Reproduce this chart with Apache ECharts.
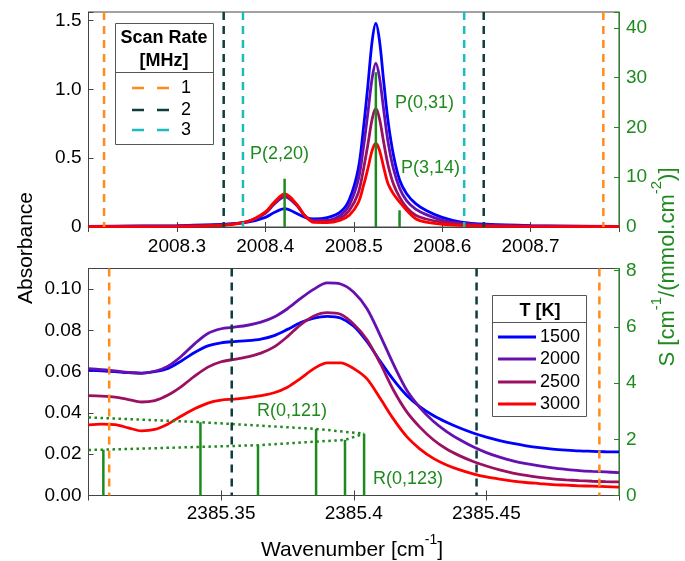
<!DOCTYPE html>
<html>
<head>
<meta charset="utf-8">
<script src="https://cdn.jsdelivr.net/npm/echarts@6/dist/echarts.min.js"></script>
<style>
  html, body { margin: 0; padding: 0; background: #fff; }
  #chartsDom { width: 685px; height: 561px; }
</style>
</head>
<body>
<div id="chartsDom"></div>
<script>
// ---- top panel: P branch near 2008.5 cm-1 ----
var xTop = [2008.20, 2008.30, 2008.35, 2008.38, 2008.40, 2008.41, 2008.422, 2008.435, 2008.445, 2008.455,
  2008.47, 2008.485, 2008.495, 2008.505, 2008.511, 2008.516, 2008.521, 2008.525, 2008.529, 2008.534,
  2008.539, 2008.545, 2008.552, 2008.56, 2008.57, 2008.582, 2008.60, 2008.62, 2008.65, 2008.70, 2008.80];
var top1500 = [0.004, 0.010, 0.018, 0.035, 0.070, 0.105, 0.134, 0.100, 0.070, 0.058,
  0.068, 0.110, 0.200, 0.420, 0.720, 1.030, 1.360, 1.480, 1.360, 1.050,
  0.760, 0.520, 0.340, 0.240, 0.170, 0.120, 0.070, 0.038, 0.020, 0.010, 0.004];
var top2000 = [0.003, 0.008, 0.016, 0.040, 0.100, 0.165, 0.220, 0.160, 0.080, 0.048,
  0.050, 0.085, 0.160, 0.340, 0.580, 0.830, 1.090, 1.190, 1.090, 0.845,
  0.610, 0.420, 0.280, 0.190, 0.130, 0.090, 0.050, 0.028, 0.015, 0.008, 0.003];
var top2500 = [0.002, 0.006, 0.014, 0.040, 0.105, 0.175, 0.232, 0.165, 0.080, 0.040,
  0.040, 0.065, 0.120, 0.245, 0.420, 0.600, 0.790, 0.862, 0.790, 0.610,
  0.445, 0.310, 0.215, 0.140, 0.085, 0.058, 0.035, 0.020, 0.010, 0.005, 0.002];
var top3000 = [0.002, 0.005, 0.012, 0.040, 0.110, 0.180, 0.240, 0.170, 0.080, 0.033,
  0.032, 0.050, 0.085, 0.175, 0.300, 0.425, 0.560, 0.607, 0.560, 0.430,
  0.310, 0.240, 0.180, 0.120, 0.060, 0.035, 0.020, 0.012, 0.007, 0.004, 0.002];
var stickTopX = [2008.4218, 2008.525, 2008.5518];
var stickTopS = [9.7, 31.1, 3.35];
var dashTop = { "1": [2008.2176, 2008.7823], "2": [2008.3529, 2008.6470], "3": [2008.3747, 2008.6249] };

// ---- bottom panel: R branch band head near 2385.4 cm-1 ----
var xBot = [2385.300, 2385.305, 2385.310, 2385.315, 2385.320, 2385.325, 2385.330, 2385.335, 2385.340, 2385.345,
  2385.350, 2385.355, 2385.360, 2385.365, 2385.370, 2385.375, 2385.380, 2385.385, 2385.390, 2385.395,
  2385.400, 2385.405, 2385.410, 2385.415, 2385.420, 2385.425, 2385.430, 2385.435, 2385.440, 2385.445,
  2385.450, 2385.455, 2385.460, 2385.465, 2385.470, 2385.475, 2385.480, 2385.485, 2385.490, 2385.495, 2385.500];
var bot1500 = [0.0608, 0.0604, 0.0600, 0.0595, 0.0593, 0.0600, 0.0616, 0.0652, 0.0693, 0.0725,
  0.0740, 0.0746, 0.0750, 0.0758, 0.0775, 0.0805, 0.0838, 0.0860, 0.0868, 0.0860,
  0.0820, 0.0745, 0.0650, 0.0560, 0.0485, 0.0430, 0.0388, 0.0355, 0.0327, 0.0303,
  0.0283, 0.0266, 0.0252, 0.0241, 0.0232, 0.0225, 0.0220, 0.0216, 0.0214, 0.0212, 0.0211];
var bot2000 = [0.0615, 0.0610, 0.0604, 0.0596, 0.0592, 0.0602, 0.0627, 0.0675, 0.0735, 0.0785,
  0.0808, 0.0816, 0.0825, 0.0840, 0.0865, 0.0905, 0.0955, 0.1000, 0.1030, 0.1025,
  0.0985, 0.0905, 0.0775, 0.0635, 0.0510, 0.0425, 0.0360, 0.0310, 0.0270, 0.0236,
  0.0208, 0.0186, 0.0168, 0.0154, 0.0143, 0.0134, 0.0127, 0.0121, 0.0117, 0.0114, 0.0111];
var bot2500 = [0.0484, 0.0482, 0.0477, 0.0465, 0.0453, 0.0460, 0.0487, 0.0528, 0.0578, 0.0622,
  0.0648, 0.0660, 0.0672, 0.0690, 0.0720, 0.0770, 0.0828, 0.0870, 0.0886, 0.0878,
  0.0830, 0.0755, 0.0640, 0.0510, 0.0405, 0.0330, 0.0270, 0.0225, 0.0192, 0.0165,
  0.0143, 0.0124, 0.0109, 0.0097, 0.0088, 0.0081, 0.0076, 0.0072, 0.0069, 0.0067, 0.0066];
var bot3000 = [0.0342, 0.0346, 0.0343, 0.0328, 0.0313, 0.0320, 0.0347, 0.0385, 0.0420, 0.0448,
  0.0462, 0.0467, 0.0474, 0.0484, 0.0498, 0.0525, 0.0568, 0.0615, 0.0643, 0.0643,
  0.0615, 0.0565, 0.0470, 0.0370, 0.0285, 0.0225, 0.0180, 0.0148, 0.0124, 0.0105,
  0.0090, 0.0079, 0.0070, 0.0063, 0.0058, 0.0053, 0.0050, 0.0047, 0.0045, 0.0043, 0.0041];
var stickBotX = [2385.3056, 2385.3422, 2385.3639, 2385.3858, 2385.3967, 2385.4039];
var stickBotS = [1.63, 2.61, 1.79, 2.37, 1.98, 2.2];
var branchUpper = [[2385.300, 2.78], [2385.3422, 2.61], [2385.3858, 2.37], [2385.4039, 2.2]];
var branchLower = [[2385.300, 1.62], [2385.3056, 1.63], [2385.3639, 1.79], [2385.3967, 1.98], [2385.4039, 2.2]];
var dashBot = { "1": [2385.3078, 2385.4926], "2": [2385.3540, 2385.4463] };

var temps = ["1500", "2000", "2500", "3000"];
var tempColors = ["#0000ff", "#6610b0", "#9c1062", "#ff0000"];
var rateColors = { "1": "#ff8c1a", "2": "#0f3c3c", "3": "#1cbcbc" };
var green = "#1e8a1e";
var font = "'Liberation Sans', Arial, Helvetica, sans-serif";

function zip(xs, ys) {
  return xs.map(function (x, i) { return [x, ys[i]]; });
}

function stickItem(params, api) {
  var p0 = api.coord([api.value(0), 0]);
  var p1 = api.coord([api.value(0), api.value(1)]);
  return {
    type: "line",
    shape: { x1: p0[0], y1: p0[1], x2: p1[0], y2: p1[1] },
    style: { stroke: green, lineWidth: 2.5 }
  };
}

function vline(color) {
  return function (params, api) {
    var p = api.coord([api.value(0), 0]);
    var cs = params.coordSys;
    return {
      type: "line",
      shape: { x1: p[0], y1: cs.y, x2: p[0], y2: cs.y + cs.height },
      style: { stroke: color, lineWidth: 2.5, lineDash: [8, 6] }
    };
  };
}

var labelStyle = { fontFamily: font, fontSize: 19, color: "#000" };

function xAxisPair(gridIndex, min, max, interval, fmt, margin) {
  return [
    {
      type: "value", gridIndex: gridIndex, min: min, max: max, interval: interval,
      axisLine: { show: true, lineStyle: { color: "#444", width: 1 } },
      axisTick: { show: true, inside: true, length: 5, lineStyle: { color: "#444" } },
      axisLabel: Object.assign({ margin: margin, showMinLabel: false, showMaxLabel: false, formatter: fmt }, labelStyle),
      splitLine: { show: false }
    },
    {
      type: "value", gridIndex: gridIndex, position: "top", min: min, max: max, interval: interval,
      axisLine: { show: true, lineStyle: { color: "#444", width: 1 } },
      axisTick: { show: true, inside: true, length: 5, lineStyle: { color: "#444" } },
      axisLabel: { show: false },
      splitLine: { show: false }
    }
  ];
}

function yAxis(gridIndex, pos, max, interval, fmt, color) {
  return {
    type: "value", gridIndex: gridIndex, position: pos, min: 0, max: max, interval: interval,
    axisLine: { show: true, lineStyle: { color: color === "#000" ? "#444" : color, width: 1 } },
    axisTick: { show: true, inside: true, length: 5, lineStyle: { color: color === "#000" ? "#444" : color } },
    axisLabel: Object.assign({}, labelStyle, { color: color, margin: 7, formatter: fmt }),
    splitLine: { show: false }
  };
}

function keepMultiple(step, digits) {
  return function (v) {
    var k = v / step;
    if (Math.abs(k - Math.round(k)) > 1e-6) return "";
    if (v === 0 && digits === 1) return "0";
    return v.toFixed(digits);
  };
}

var series = [];
// curves
temps.forEach(function (t, i) {
  series.push({
    type: "line", name: t, xAxisIndex: 0, yAxisIndex: 0, showSymbol: false, smooth: 0.35, z: 3,
    lineStyle: { color: tempColors[i], width: 2.8 }, data: zip(xTop, [top1500, top2000, top2500, top3000][i])
  });
  series.push({
    type: "line", name: t, xAxisIndex: 2, yAxisIndex: 2, showSymbol: false, smooth: 0.3, z: 3,
    lineStyle: { color: tempColors[i], width: 2.8 }, data: zip(xBot, [bot1500, bot2000, bot2500, bot3000][i])
  });
});
// line strengths (right axis)
series.push({ type: "custom", xAxisIndex: 0, yAxisIndex: 1, renderItem: stickItem, z: 4, data: zip(stickTopX, stickTopS) });
series.push({ type: "custom", xAxisIndex: 2, yAxisIndex: 3, renderItem: stickItem, z: 4, data: zip(stickBotX, stickBotS) });
series.push({ type: "line", xAxisIndex: 2, yAxisIndex: 3, showSymbol: false, z: 4,
  lineStyle: { color: green, width: 2.5, type: [2.5, 3.5] }, data: branchUpper });
series.push({ type: "line", xAxisIndex: 2, yAxisIndex: 3, showSymbol: false, z: 4,
  lineStyle: { color: green, width: 2.5, type: [2.5, 3.5] }, data: branchLower });
// scan-rate limits
Object.keys(dashTop).forEach(function (k) {
  series.push({ type: "custom", name: k, xAxisIndex: 0, yAxisIndex: 0, z: 5, renderItem: vline(rateColors[k]),
    data: dashTop[k].map(function (v) { return [v, 0]; }) });
});
Object.keys(dashBot).forEach(function (k) {
  series.push({ type: "custom", name: k, xAxisIndex: 2, yAxisIndex: 2, z: 5, renderItem: vline(rateColors[k]),
    data: dashBot[k].map(function (v) { return [v, 0]; }) });
});

var gtxt = function (x, y, text, opts) {
  return {
    type: "text", x: x, y: y, z: 100,
    style: Object.assign({ text: text, font: "18px " + font, fill: "#000", align: "left", verticalAlign: "middle" }, opts || {})
  };
};

var graphics = [
  // scan rate legend
  { type: "rect", z: 90, shape: { x: 115.5, y: 23.5, width: 98, height: 121 }, style: { fill: "#fff", stroke: "#555", lineWidth: 1 } },
  gtxt(164, 38, "Scan Rate", { font: "bold 18px " + font, align: "center" }),
  gtxt(164, 61, "[MHz]", { font: "bold 18px " + font, align: "center" }),
  { type: "line", z: 95, shape: { x1: 115.5, y1: 72.5, x2: 213.5, y2: 72.5 }, style: { stroke: "#555", lineWidth: 1 } },
  // T legend
  { type: "rect", z: 90, shape: { x: 492.5, y: 295.5, width: 94, height: 121 }, style: { fill: "#fff", stroke: "#555", lineWidth: 1 } },
  gtxt(540, 311, "T [K]", { font: "bold 18px " + font, align: "center" }),
  { type: "line", z: 95, shape: { x1: 492.5, y1: 322.5, x2: 586.5, y2: 322.5 }, style: { stroke: "#555", lineWidth: 1 } },
  // line labels
  gtxt(250, 154, "P(2,20)", { fill: green }),
  gtxt(395, 103, "P(0,31)", { fill: green }),
  gtxt(401, 168, "P(3,14)", { fill: green }),
  gtxt(257, 411, "R(0,121)", { fill: green }),
  gtxt(373, 479, "R(0,123)", { fill: green }),
  // axis titles
  {
    type: "text", z: 100, x: 26, y: 248, rotation: Math.PI / 2,
    style: { text: "Absorbance", font: "21px " + font, fill: "#000", align: "center", verticalAlign: "middle" }
  },
  {
    type: "text", z: 100, x: 352, y: 547,
    style: {
      text: "{n|Wavenumber [cm}{s|-1}{n|]}", align: "center", verticalAlign: "middle",
      rich: {
        n: { fontFamily: font, fontSize: 21, lineHeight: 28, verticalAlign: "bottom", fill: "#000" },
        s: { fontFamily: font, fontSize: 14, lineHeight: 14, verticalAlign: "top", fill: "#000" }
      }
    }
  },
  {
    type: "text", z: 100, x: 664, y: 267, rotation: Math.PI / 2,
    style: {
      text: "{n|S [cm}{s|-1}{n|/(mmol.cm}{s|-2}{n|)]}", align: "center", verticalAlign: "middle",
      rich: {
        n: { fontFamily: font, fontSize: 22, lineHeight: 29, verticalAlign: "bottom", fill: green },
        s: { fontFamily: font, fontSize: 15, lineHeight: 15, verticalAlign: "top", fill: green }
      }
    }
  }
];

var rowsTop = [88, 110, 130];
["1", "2", "3"].forEach(function (k, i) {
  graphics.push({ type: "line", z: 95, shape: { x1: 132, y1: rowsTop[i], x2: 170, y2: rowsTop[i] },
    style: { stroke: rateColors[k], lineWidth: 2.5, lineDash: [12, 13] } });
  graphics.push(gtxt(181, rowsTop[i], k));
});
var rowsBot = [337, 359, 382, 404];
temps.forEach(function (t, i) {
  graphics.push({ type: "line", z: 95, shape: { x1: 498, y1: rowsBot[i], x2: 536, y2: rowsBot[i] },
    style: { stroke: tempColors[i], lineWidth: 2.8 } });
  graphics.push(gtxt(540, rowsBot[i], t));
});

var topX = xAxisPair(0, 2008.2, 2008.8, 0.1, function (v) { return v.toFixed(1); }, 10);
var botX = xAxisPair(1, 2385.3, 2385.5, 0.05, function (v) { return String(parseFloat(v.toFixed(2))); }, 9);

var option = {
  animation: false,
  backgroundColor: "#fff",
  grid: [
    { left: 88.5, right: 66, top: 12, height: 215, show: true, borderColor: "#444", borderWidth: 1 },
    { left: 88.5, right: 66, top: 268.5, height: 227, show: true, borderColor: "#444", borderWidth: 1 }
  ],
  xAxis: topX.concat(botX),
  yAxis: [
    yAxis(0, "left", 1.5625, 0.5, keepMultiple(0.5, 1), "#000"),
    yAxis(0, "right", 43.2, 10, keepMultiple(10, 0), green),
    yAxis(1, "left", 0.11, 0.02, keepMultiple(0.02, 2), "#000"),
    yAxis(1, "right", 8.08, 2, keepMultiple(2, 0), green)
  ],
  series: series,
  graphic: graphics
};

var myChart = echarts.init(document.getElementById("chartsDom"));
myChart.setOption(option);
</script>
</body>
</html>
